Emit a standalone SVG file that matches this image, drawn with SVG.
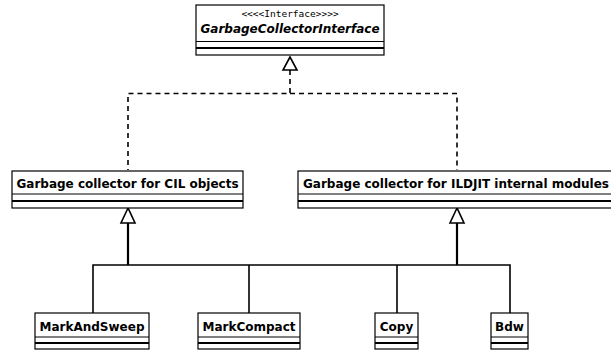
<svg xmlns="http://www.w3.org/2000/svg" width="611" height="352" viewBox="0 0 611 352">
<style>
.box{fill:#fff;stroke:#000;stroke-width:1.2}
.div{stroke:#000;stroke-width:1.2}
.thick{stroke:#000;stroke-width:2.2}
.name{font-family:"DejaVu Sans",sans-serif;font-weight:bold;font-size:12px;fill:#000}
.ster{font-family:"DejaVu Sans Mono",monospace;font-size:9.5px;fill:#000}
.line{fill:none;stroke:#000;stroke-width:1.6}
.trunk{fill:none;stroke:#000;stroke-width:2.2}
.dash{fill:none;stroke:#000;stroke-width:1.6;stroke-dasharray:5,4}
.tri{fill:#fff;stroke:#000;stroke-width:1.6}
</style>
<rect width="611" height="352" fill="#fff"/>
<g id="connectors">
<path class="dash" d="M290,70 V93.5 H128 V170"/>
<path class="dash" d="M290,93.5 H457 V170"/>
<polygon class="tri" points="290,57 283,70 297,70"/>
<path class="trunk" d="M128,223 V265"/>
<path class="trunk" d="M457,223 V265"/>
<path class="line" d="M93,313 V265 H510 V313"/>
<path class="line" d="M249,265 V313"/>
<path class="line" d="M397,265 V313"/>
<polygon class="tri" points="128,208 121,223 135,223"/>
<polygon class="tri" points="457,208 450,223 464,223"/>
</g>
<g id="GarbageCollectorInterface">
<rect class="box" x="196" y="5" width="188" height="50"/>
<text class="ster" x="290" y="17" text-anchor="middle">&lt;&lt;&lt;&lt;Interface&gt;&gt;&gt;&gt;</text>
<text class="name" x="290" y="33" text-anchor="middle" font-style="italic">GarbageCollectorInterface</text>
<line class="div" x1="196" y1="41.5" x2="384" y2="41.5"/>
<line class="thick" x1="196" y1="48" x2="384" y2="48"/>
</g>
<g id="CILGC">
<rect class="box" x="12" y="171" width="231" height="37"/>
<text class="name" x="127.5" y="188" text-anchor="middle">Garbage collector for CIL objects</text>
<line class="div" x1="12" y1="194" x2="243" y2="194"/>
<line class="thick" x1="12" y1="201" x2="243" y2="201"/>
</g>
<g id="ILDJITGC">
<rect class="box" x="298" y="171" width="316" height="37"/>
<text class="name" x="303" y="188">Garbage collector for ILDJIT internal modules</text>
<line class="div" x1="298" y1="194" x2="614" y2="194"/>
<line class="thick" x1="298" y1="201" x2="614" y2="201"/>
</g>
<g id="MarkAndSweep">
<rect class="box" x="35" y="313" width="114" height="36"/>
<text class="name" x="92" y="331" text-anchor="middle">MarkAndSweep</text>
<line class="div" x1="35" y1="337" x2="149" y2="337"/>
<line class="thick" x1="35" y1="343" x2="149" y2="343"/>
</g>
<g id="MarkCompact">
<rect class="box" x="198" y="313" width="102" height="36"/>
<text class="name" x="249" y="331" text-anchor="middle">MarkCompact</text>
<line class="div" x1="198" y1="337" x2="300" y2="337"/>
<line class="thick" x1="198" y1="343" x2="300" y2="343"/>
</g>
<g id="Copy">
<rect class="box" x="375" y="313" width="43" height="36"/>
<text class="name" x="396.5" y="331" text-anchor="middle">Copy</text>
<line class="div" x1="375" y1="337" x2="418" y2="337"/>
<line class="thick" x1="375" y1="343" x2="418" y2="343"/>
</g>
<g id="Bdw">
<rect class="box" x="491" y="313" width="37" height="36"/>
<text class="name" x="509.5" y="331" text-anchor="middle">Bdw</text>
<line class="div" x1="491" y1="337" x2="528" y2="337"/>
<line class="thick" x1="491" y1="343" x2="528" y2="343"/>
</g>
</svg>
